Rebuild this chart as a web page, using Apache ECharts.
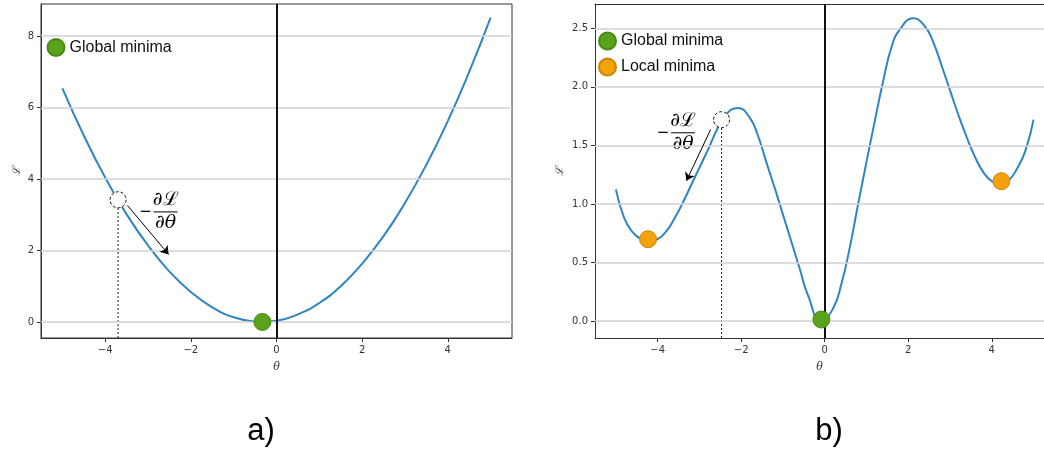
<!DOCTYPE html>
<html><head><meta charset="utf-8">
<script src="https://cdn.jsdelivr.net/npm/echarts@6/dist/echarts.min.js"></script>
<style>html,body{margin:0;padding:0;background:#fff}#c{width:1044px;height:450px}</style>
</head><body><div id="c"></div>
<script>
// ---- data ----
const thetaA = [-5,-4.5,-4,-3.5,-3,-2.5,-2,-1.5,-1,-0.5,-0.33,0,0.5,1,1.5,2,2.5,3,3.5,4,4.5,5];
const lossA  = [6.54,5.22,4.04,3.01,2.14,1.41,0.84,0.41,0.13,0.01,0.0,0.03,0.21,0.53,1.00,1.63,2.40,3.33,4.40,5.62,7.00,8.52];
const thetaB = [-5.0,-4.8,-4.6,-4.4,-4.2,-4.0,-3.8,-3.6,-3.4,-3.2,-3.0,-2.8,-2.6,-2.4,-2.08,-1.8,-1.6,-1.4,-1.2,-1.0,-0.8,-0.6,-0.4,-0.08,0.2,0.4,0.6,0.8,1.0,1.2,1.4,1.6,1.8,2.12,2.4,2.6,2.8,3.0,3.2,3.4,3.6,3.8,4.0,4.2,4.4,4.6,4.8,5.0];
const lossB  = [1.125,0.88,0.76,0.70,0.68,0.70,0.765,0.875,1.01,1.16,1.31,1.46,1.62,1.75,1.82,1.74,1.585,1.36,1.14,0.91,0.68,0.45,0.22,0.0,0.11,0.32,0.63,1.0,1.36,1.71,2.05,2.34,2.49,2.585,2.515,2.38,2.18,1.97,1.76,1.57,1.40,1.27,1.195,1.17,1.20,1.30,1.45,1.72];
const xTicks  = [-4,-2,0,2,4];
const yTicksA = [0,2,4,6,8];
const yTicksB = [0,0.5,1.0,1.5,2.0,2.5];
const globalA = [[-0.33,0.0]];
const globalB = [[-0.08,0.015]];
const localB  = [[-4.23,0.70],[4.23,1.195]];
const stepA = [-3.7,3.42];
const stepB = [-2.47,1.72];
const arrowA = [[-3.48,3.26],[-2.52,1.89]];
const arrowB = [[-2.73,1.637],[-3.31,1.198]];
const fracA = [-2.59,3.08];
const fracB = [-3.39,1.608];
const xRangeA = [-5.5,5.5];
const xRangeB = [-5.5,5.25];
const yRangeA = [-0.45,8.9];
const yRangeB = [-0.143,2.707];

const BLUE='#2e86c1', GREEN='#58a31a', GREEN_B='#4a8a14', ORANGE='#f3a10d', ORANGE_B='#cf8608';
const SPINE='#333';
const zip=(a,b)=>a.map((v,i)=>[v,b[i]]);
const fmtX=v=> v<0 ? '\u2212'+Math.abs(v) : String(v);

function xAx(gi,rng){return {type:'value',gridIndex:gi,min:rng[0],max:rng[1],
  name:'θ',nameLocation:'middle',nameGap:24,
  nameTextStyle:{fontFamily:'DejaVu Serif',fontStyle:'italic',fontSize:11,color:'#333'},
  axisLine:{show:true,onZero:false,lineStyle:{color:SPINE,width:1}},
  axisTick:{show:true,length:4,customValues:xTicks,lineStyle:{color:SPINE}},
  axisLabel:{customValues:xTicks,margin:7,fontFamily:'DejaVu Sans',fontSize:10,color:'#333',formatter:fmtX},
  splitLine:{show:false}};}
function yAx(gi,rng,ticks,dec,gap){return {type:'value',gridIndex:gi,min:rng[0],max:rng[1],
  name:'ℒ',nameLocation:'middle',nameGap:gap,nameRotate:90,
  nameTextStyle:{fontFamily:'DejaVu Serif',fontStyle:'italic',fontSize:11,color:'#333'},
  axisLine:{show:true,onZero:false,lineStyle:{color:SPINE,width:1}},
  axisTick:{show:true,length:4,customValues:ticks,lineStyle:{color:SPINE}},
  axisLabel:{customValues:ticks,margin:7,fontFamily:'DejaVu Sans',fontSize:10,color:'#333',
    formatter:v=>v.toFixed(dec)},
  splitLine:{show:false}};}
// top spine for the right panel (its right spine lies beyond the page edge)
const topSpineB={type:'value',gridIndex:1,position:'top',min:xRangeB[0],max:xRangeB[1],
  axisLine:{show:true,onZero:false,lineStyle:{color:SPINE,width:1}},
  axisTick:{show:false},axisLabel:{show:false},splitLine:{show:false}};

function helpers(gi,ticks,yr,step,arrow){
  return [
    {type:'line',xAxisIndex:gi,yAxisIndex:gi,data:[],z:1,silent:true,
     markLine:{silent:true,symbol:'none',animation:false,label:{show:false},
       data:ticks.map(v=>({yAxis:v,lineStyle:{color:'#d2d2d2',width:1.5,type:'solid'}}))
         .concat([{xAxis:0,lineStyle:{color:'#111',width:2,type:'solid'}}])}},
    {type:'line',xAxisIndex:gi,yAxisIndex:gi,data:[[step[0],yr[0]],[step[0],step[1]]],z:2,
     symbol:'none',silent:true,lineStyle:{color:'#222',width:1,type:[2,2]}},
    {type:'line',xAxisIndex:gi,yAxisIndex:gi,data:[],z:6,silent:true,
     markLine:{silent:true,symbol:['none','arrow'],symbolSize:8,animation:false,label:{show:false},
       lineStyle:{color:'#000',width:1,type:'solid'},
       data:[[{coord:arrow[0]},{coord:arrow[1]}]]}},
    {type:'scatter',xAxisIndex:gi,yAxisIndex:gi,data:[step],z:5,symbolSize:16,silent:true,
     itemStyle:{color:'#fff',opacity:1,borderColor:'#111',borderWidth:1,borderType:[3,2]}}
  ];
}

const chart=echarts.init(document.getElementById('c'),null,{renderer:'canvas'});
const option={
  animation:false,
  grid:[
    {left:41,top:4,width:471,height:334,show:true,borderColor:SPINE,borderWidth:1,backgroundColor:'transparent'},
    {left:595,top:4,width:449,height:334,show:false}
  ],
  xAxis:[xAx(0,xRangeA),xAx(1,xRangeB),topSpineB],
  yAxis:[yAx(0,yRangeA,yTicksA,0,18),yAx(1,yRangeB,yTicksB,1,29)],
  legend:[
    {data:['Global minima'],left:46.5,top:38,padding:0,orient:'vertical',icon:'circle',itemWidth:17,itemHeight:17,itemGap:7,
     textStyle:{fontFamily:'Liberation Sans',fontSize:16,color:'#111'},selectedMode:false},
    {data:['Global minima','Local minima'],left:598,top:31.5,padding:0,orient:'vertical',icon:'circle',itemWidth:17,itemHeight:17,itemGap:7,
     textStyle:{fontFamily:'Liberation Sans',fontSize:16,color:'#111'},selectedMode:false}
  ],
  series:[
    ...helpers(0,yTicksA,yRangeA,stepA,arrowA),
    ...helpers(1,yTicksB,yRangeB,stepB,arrowB),
    {type:'line',name:'lossA',xAxisIndex:0,yAxisIndex:0,data:zip(thetaA,lossA),smooth:0.5,symbol:'none',z:3,
     lineStyle:{color:BLUE,width:2}},
    {type:'line',name:'lossB',xAxisIndex:1,yAxisIndex:1,data:zip(thetaB,lossB),smooth:0.5,symbol:'none',z:3,
     lineStyle:{color:BLUE,width:2}},
    {type:'scatter',name:'Global minima',xAxisIndex:0,yAxisIndex:0,data:globalA,symbolSize:17,z:7,
     itemStyle:{color:GREEN,opacity:1,borderColor:GREEN_B,borderWidth:1}},
    {type:'scatter',name:'Global minima',xAxisIndex:1,yAxisIndex:1,data:globalB,symbolSize:17,z:7,
     itemStyle:{color:GREEN,opacity:1,borderColor:GREEN_B,borderWidth:1}},
    {type:'scatter',name:'Local minima',xAxisIndex:1,yAxisIndex:1,data:localB,symbolSize:17,z:7,
     itemStyle:{color:ORANGE,opacity:1,borderColor:ORANGE_B,borderWidth:1}}
  ]
};
chart.setOption(option);

function frac(gi,anchor){
  const p=chart.convertToPixel({gridIndex:gi},anchor);
  const fs={fontFamily:'DejaVu Serif',fontSize:19,fill:'#000'};
  return [
    {type:'text',x:p[0],y:p[1]-12,style:Object.assign({text:'∂ℒ',align:'center',verticalAlign:'middle'},fs)},
    {type:'line',shape:{x1:p[0]-12,y1:p[1],x2:p[0]+12,y2:p[1]},style:{stroke:'#000',lineWidth:1}},
    {type:'text',x:p[0],y:p[1]+11,style:Object.assign({text:'∂θ',align:'center',verticalAlign:'middle',fontStyle:'italic'},fs)},
    {type:'text',x:p[0]-20,y:p[1],style:{text:'\u2212',align:'center',verticalAlign:'middle',fontFamily:'DejaVu Sans',fontSize:15,fill:'#000'}}
  ];
}
chart.setOption({graphic:[
  ...frac(0,fracA),...frac(1,fracB),
  {type:'text',x:261,y:431,style:{text:'a)',align:'center',verticalAlign:'middle',fontFamily:'Liberation Sans',fontSize:31,fill:'#000'}},
  {type:'text',x:829,y:431,style:{text:'b)',align:'center',verticalAlign:'middle',fontFamily:'Liberation Sans',fontSize:31,fill:'#000'}}
]});
</script></body></html>
